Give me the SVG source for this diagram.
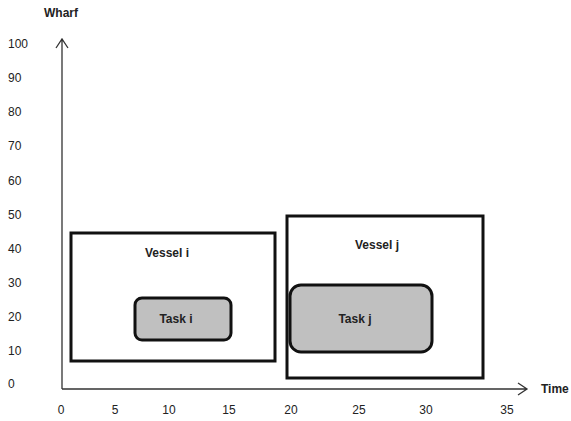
<svg xmlns="http://www.w3.org/2000/svg" width="571" height="421" viewBox="0 0 571 421">
<style>
.t{font-family:"Liberation Sans",Arial,sans-serif;font-size:12px;fill:#222}
.b{font-weight:bold}
.box{fill:none;stroke:#111;stroke-width:3}
.task{fill:#c0c0c0;stroke:#111;stroke-width:3}
.ax{stroke:#333;stroke-width:1.3;fill:none}
</style>
<rect width="571" height="421" fill="#fff"/>
<g id="axes">
<path class="ax" d="M62,389 V39 M56,48 L62,39 L68,48"/>
<path class="ax" d="M62,389 H527 M518,383 L527,389 L518,395"/>
<text class="t b" x="44" y="17">Wharf</text>
<text class="t b" x="541" y="393">Time</text>
<g class="t">
<text x="8" y="48">100</text>
<text x="8" y="82">90</text>
<text x="8" y="116">80</text>
<text x="8" y="150">70</text>
<text x="8" y="185">60</text>
<text x="8" y="219">50</text>
<text x="8" y="253">40</text>
<text x="8" y="287">30</text>
<text x="8" y="321">20</text>
<text x="8" y="355">10</text>
<text x="8" y="388">0</text>
</g>
<g class="t" text-anchor="middle">
<text x="61" y="414">0</text>
<text x="115" y="414">5</text>
<text x="169" y="414">10</text>
<text x="229" y="414">15</text>
<text x="291" y="414">20</text>
<text x="359" y="414">25</text>
<text x="426" y="414">30</text>
<text x="507" y="414">35</text>
</g>
</g>
<g id="vessel-i">
<rect class="box" x="71" y="233" width="204" height="128"/>
<text class="t b" x="167" y="257" text-anchor="middle">Vessel i</text>
</g>
<g id="task-i">
<rect class="task" x="135" y="298" width="96" height="42" rx="7"/>
<text class="t b" x="176" y="323" text-anchor="middle">Task i</text>
</g>
<g id="vessel-j">
<rect class="box" x="287" y="216" width="196" height="162"/>
<text class="t b" x="377" y="249" text-anchor="middle">Vessel j</text>
</g>
<g id="task-j">
<rect class="task" x="290" y="285" width="142" height="67" rx="11"/>
<text class="t b" x="355" y="323" text-anchor="middle">Task j</text>
</g>
</svg>
